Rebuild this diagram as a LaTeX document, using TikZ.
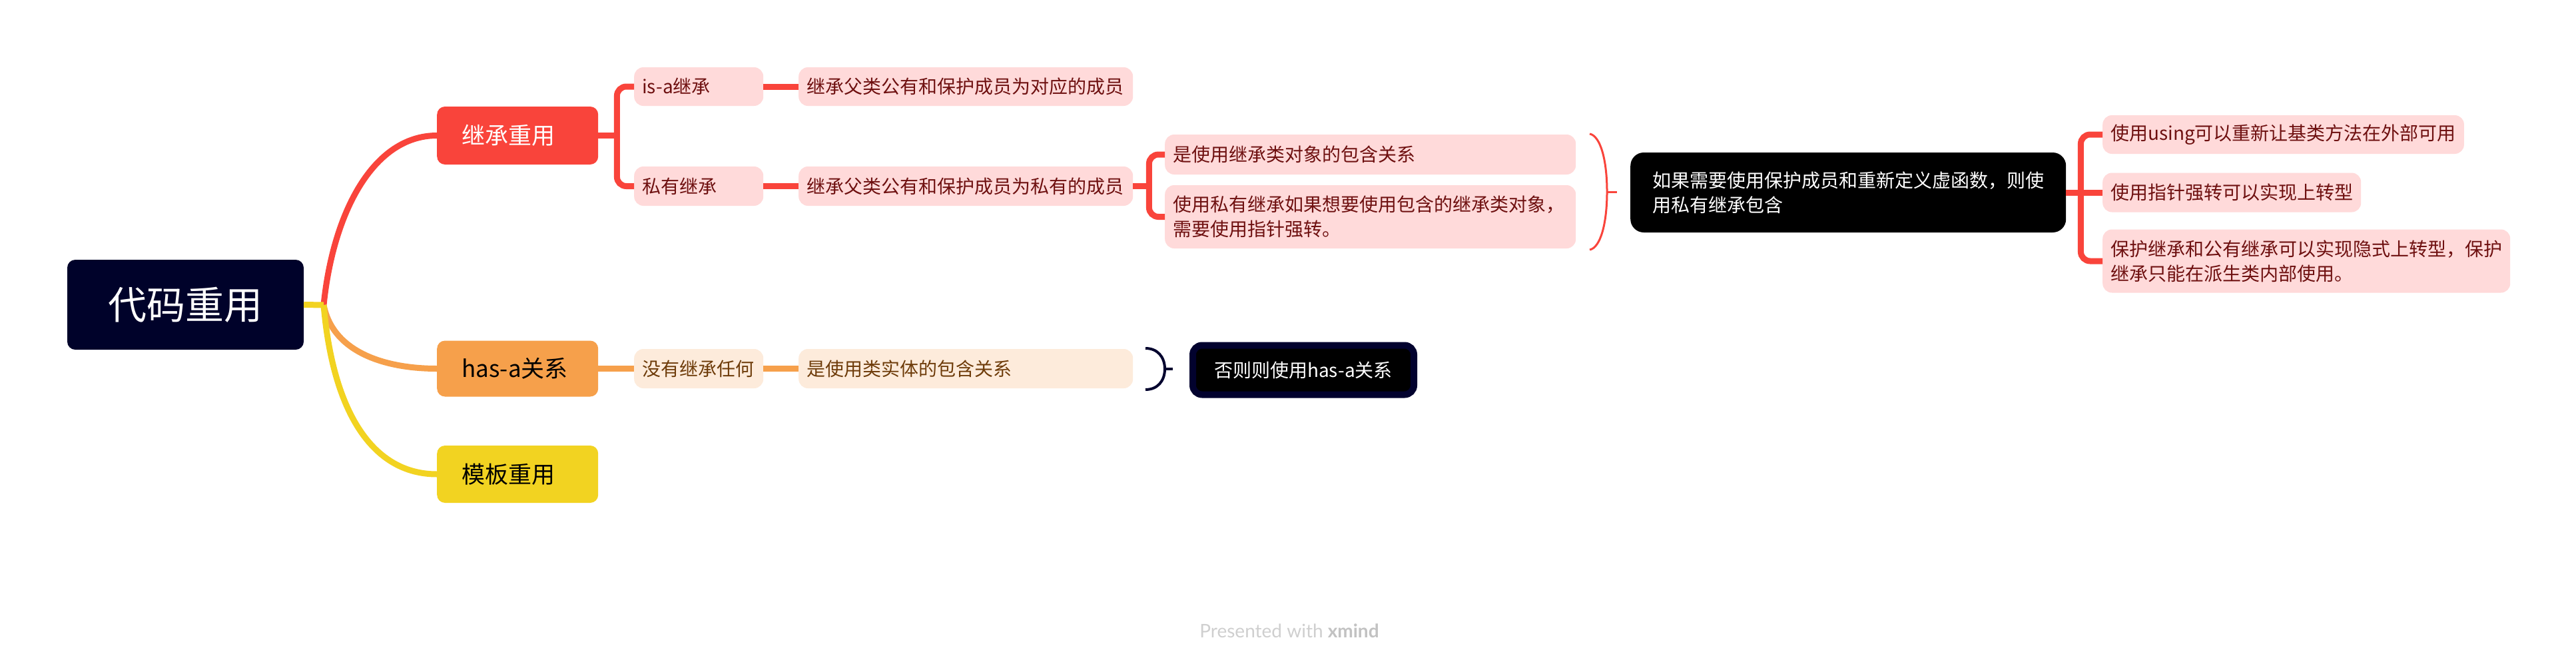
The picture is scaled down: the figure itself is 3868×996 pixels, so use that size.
\documentclass[tikz,border=0pt]{standalone}
\usepackage{fontspec}
\usepackage{xcolor}
\newfontfamily\cjk{Noto Sans CJK SC}
\newfontfamily\footfont{Lato}
\definecolor{rootnavy}{HTML}{00022A}
\definecolor{redmain}{HTML}{F9443B}
\definecolor{orangemain}{HTML}{F6A04B}
\definecolor{yellowmain}{HTML}{F2D321}
\definecolor{pinkbg}{HTML}{FFDADA}
\definecolor{maroon}{HTML}{6E1010}
\definecolor{peachbg}{HTML}{FDEBDB}
\definecolor{brownish}{HTML}{6E3C0A}
\definecolor{navyline}{HTML}{02022E}
\definecolor{footgray}{HTML}{CFCFCF}
\definecolor{footdark}{HTML}{C2C2C2}

\begin{document}
\begin{tikzpicture}[x=1pt,y=-1pt,
  box/.style={rounded corners=14pt,anchor=west,inner xsep=12pt,inner ysep=0pt,align=left,font=\cjk\fontsize{28pt}{37pt}\selectfont},
  redsub/.style={box,fill=pinkbg,text=maroon},
  orsub/.style={box,fill=peachbg,text=brownish},
  topic/.style={rounded corners=12pt,anchor=west,inner sep=0pt,minimum width=242pt,text width=168pt,align=left,font=\cjk\fontsize{35pt}{42pt}\selectfont},
  redline/.style={draw=redmain,line width=9pt},
  orline/.style={draw=orangemain,line width=9pt}]
  \path[fill=white,use as bounding box] (0,0) rectangle (3868,996);

  \node[fill=rootnavy,text=white,rounded corners=12pt,minimum width=355pt,minimum height=135pt,font=\cjk\fontsize{58pt}{70pt}\selectfont] (root) at (278.5,457.5) {代码重用};
  \node[topic,fill=redmain,text=white,minimum height=87pt] (jc) at (656,203.5) {继承重用};
  \node[topic,fill=orangemain,text=black,minimum height=84pt] (hasa) at (656,553.5) {has-a关系};
  \node[topic,fill=yellowmain,text=black,minimum height=86pt] (mb) at (656,712) {模板重用};

  \node[redsub,text width=170pt,minimum height=58pt] (isa) at (952,130) {is-a继承};
  \node[redsub,text width=170pt,minimum height=59pt] (sy) at (952,279.5) {私有继承};
  \node[orsub,text width=170pt,minimum height=59pt] (wu) at (952,553.5) {没有继承任何};
  \node[redsub,text width=478pt,minimum height=58pt] (dy) at (1199,130) {继承父类公有和保护成员为对应的成员};
  \node[redsub,text width=478pt,minimum height=59pt] (sy2) at (1199,279.5) {继承父类公有和保护成员为私有的成员};
  \node[orsub,text width=478pt,minimum height=59pt] (st) at (1199,553.5) {是使用类实体的包含关系};
  \node[redsub,text width=593pt,minimum height=60pt] (bh1) at (1749,232) {是使用继承类对象的包含关系};
  \node[redsub,text width=593pt,minimum height=95pt] (bh2) at (1749,325.5) {使用私有继承如果想要使用包含的继承类对象，\\需要使用指针强转。};

  \node[box,fill=black,text=white,inner xsep=33pt,minimum height=120pt,rounded corners=20pt] (sum) at (2448,289) {如果需要使用保护成员和重新定义虚函数，则使\\用私有继承包含};
  \node[redsub,minimum height=58pt] (r1) at (3157,202) {使用using可以重新让基类方法在外部可用};
  \node[redsub,minimum height=59pt] (r2) at (3157,289) {使用指针强转可以实现上转型};
  \node[redsub,minimum height=95pt] (r3) at (3157,392) {保护继承和公有继承可以实现隐式上转型，保护\\继承只能在派生类内部使用。};

  \node[anchor=west,fill=black,draw=navyline,line width=10pt,rounded corners=14pt,minimum width=332pt,minimum height=74pt,text=white,font=\cjk\fontsize{28pt}{32pt}\selectfont] (fz) at (1786,555.5) {否则则使用has-a关系};

  \coordinate (hub) at (486,458);
  \draw[redline] (hub) .. controls (500,320) and (560,203.5) .. (jc.west);
  \draw[orline] (hub) .. controls (500,530) and (580,553.5) .. (hasa.west);
  \draw[draw=yellowmain,line width=9pt] (hub) .. controls (500,620) and (560,712) .. (mb.west);
  \draw[draw=yellowmain,line width=9pt] (root.east) -- (hub);

  \draw[redline] (jc.east) -- ++(28,0);
  \draw[redline,rounded corners=14pt] (isa.west) -| ([xshift=28pt]jc.east) |- (sy.west);
  \draw[redline] (isa) -- (dy);
  \draw[redline] (sy) -- (sy2);
  \draw[redline] (sy2.east) -- ++(24,0);
  \draw[redline,rounded corners=14pt] (bh1.west) -| ([xshift=24pt]sy2.east) |- (bh2.west);
  \draw[redline] (sum) -- (r2);
  \draw[redline,rounded corners=14pt] (r1.west) -| ([xshift=22pt]sum.east) |- (r3.west);
  \draw[orline] (hasa) -- (wu);
  \draw[orline] (wu) -- (st);

  \coordinate (rtop) at (2387,201);
  \coordinate (rmid) at (2413,288);
  \coordinate (rbot) at (2387,375);
  \draw[redmain,line width=3pt] (rtop) .. controls (2403,204) and (2413,240) .. (rmid) .. controls (2413,336) and (2403,372) .. (rbot);
  \draw[redmain,line width=3pt] (rmid) -- ++(15,0);
  \coordinate (ntop) at (1720,523);
  \coordinate (nmid) at (1749,554);
  \coordinate (nbot) at (1720,585);
  \draw[navyline,line width=4pt] (ntop) .. controls (1738,523) and (1749,536) .. (nmid) .. controls (1749,572) and (1738,585) .. (nbot);
  \draw[navyline,line width=4pt] (nmid) -- ++(12,0);

  \node[font=\footfont\fontsize{28pt}{34pt}\selectfont,text=footgray] (foot) at (1936,947) {Presented with {\color{footdark}\bfseries xmind}};
\end{tikzpicture}
\end{document}
